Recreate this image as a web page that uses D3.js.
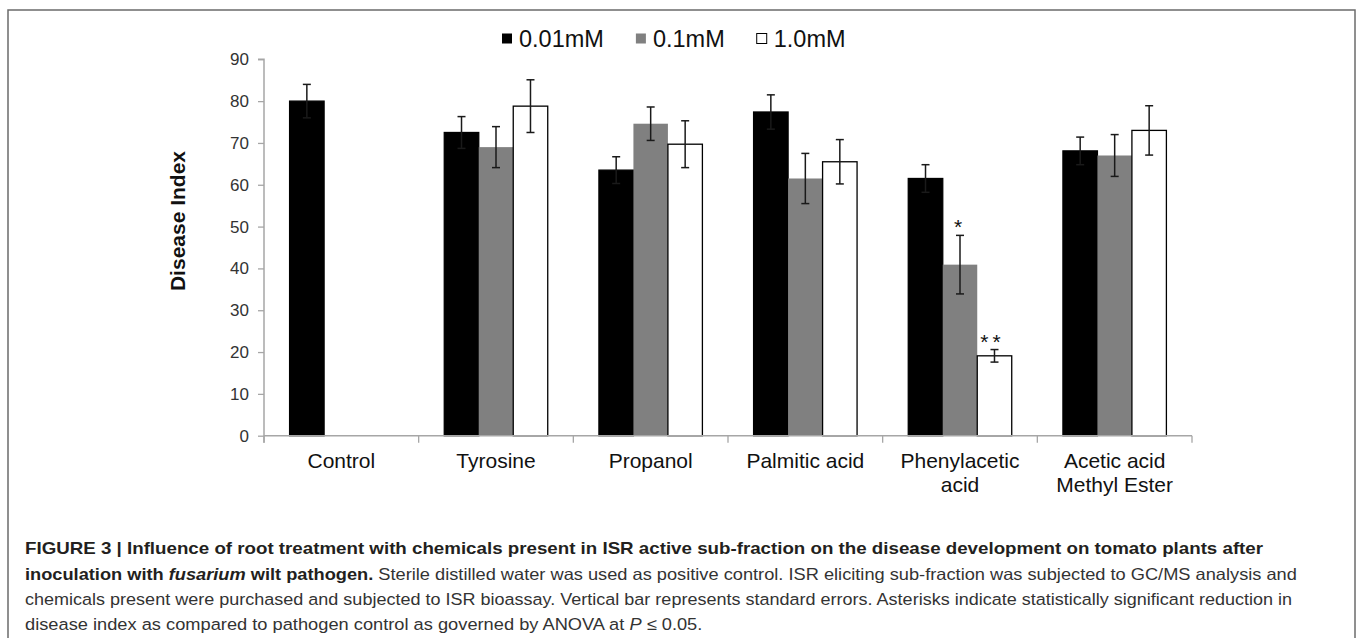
<!DOCTYPE html>
<html>
<head>
<meta charset="utf-8">
<script src="https://cdn.jsdelivr.net/npm/d3@7"></script>
<style>
  body { margin: 0; background: #fff; }
  svg { display: block; font-family: "Liberation Sans", Arial, sans-serif; }
</style>
</head>
<body>
<svg id="chart" width="1360" height="638"></svg>
<script>
// data
const categories = ["Control", "Tyrosine", "Propanol", "Palmitic acid", "Phenylacetic acid", "Acetic acid Methyl Ester"]
const catLines = [["Control"], ["Tyrosine"], ["Propanol"], ["Palmitic acid"], ["Phenylacetic", "acid"], ["Acetic acid", "Methyl Ester"]]
const series = ["0.01mM", "0.1mM", "1.0mM"]
const mean001 = [80, 72.5, 63.5, 77.4, 61.5, 68.1]
const mean01 = [null, 69, 74.6, 61.5, 40.9, 67]
const mean10 = [null, 78.8, 69.7, 65.5, 19.1, 73]
const se001 = [4, 3.8, 3.2, 4.1, 3.3, 3.3]
const se01 = [null, 4.9, 4, 6, 7, 5]
const se10 = [null, 6.3, 5.6, 5.3, 1.5, 5.9]
const yTicks = [0, 10, 20, 30, 40, 50, 60, 70, 80, 90]
// significance marks: category, series, label
const marks = [["Phenylacetic acid", "0.1mM", "*"], ["Phenylacetic acid", "1.0mM", "**"]]

const means = [mean001, mean01, mean10]
const ses = [se001, se01, se10]
const fills = ["#000", "#808080", "#fff"]

const svg = d3.select("#chart")

//outer frame (bottom edge runs off the page)
svg.append("rect").attr("x", 8).attr("y", 10).attr("width", 1347).attr("height", 660)
  .attr("fill", "none").attr("stroke", "#6b6b6b").attr("stroke-width", 1.5)

//scales
const x = d3.scaleBand().domain(categories).range([264, 1192])
const xs = d3.scaleBand().domain(series).range([25.6, x.bandwidth() - 25.6])
const y = d3.scaleLinear().domain([0, 90]).range([435.7, 59.3])

//flat rows
let rows = []
categories.forEach((c, i) => {
  series.forEach((s, j) => {
    if (means[j][i] != null) rows.push({ c, s, j, v: means[j][i], e: ses[j][i] })
  })
})

//y axis
const yAxis = svg.append("g").attr("transform", "translate(264,0)")
  .call(d3.axisLeft(y).tickValues(yTicks).tickSize(6).tickPadding(9))
yAxis.select(".domain").attr("stroke", "#a6a6a6").attr("stroke-width", 1.5)
  .attr("d", "M-6," + y(90) + "H0V" + (y(0) + 7))
yAxis.selectAll(".tick line").attr("stroke", "#a6a6a6").attr("stroke-width", 1.3)
yAxis.selectAll(".tick text").attr("fill", "#333").style("font-size", "17px")
  .style("font-family", "'Liberation Sans', Arial, sans-serif")

//bars
const g = svg.append("g")
g.selectAll("rect").data(rows).enter().append("rect")
  .attr("x", d => x(d.c) + xs(d.s))
  .attr("y", d => y(d.v))
  .attr("width", xs.bandwidth())
  .attr("height", d => y(0) - y(d.v))
  .attr("fill", d => fills[d.j])
  .attr("stroke", d => d.j == 1 ? "none" : "#000")
  .attr("stroke-width", 1.3)

//x axis line + category boundary ticks
const xa = svg.append("g")
xa.append("line").attr("x1", 264).attr("x2", 1192).attr("y1", y(0)).attr("y2", y(0))
  .attr("stroke", "#a6a6a6").attr("stroke-width", 1.5)
xa.selectAll("line.tk").data(categories.concat(["end"])).enter().append("line")
  .attr("class", "tk")
  .attr("x1", (d, i) => 264 + i * x.step()).attr("x2", (d, i) => 264 + i * x.step())
  .attr("y1", y(0)).attr("y2", y(0) + 7)
  .attr("stroke", "#a6a6a6").attr("stroke-width", 1.3)
const lab = xa.selectAll("text").data(categories).enter().append("text")
  .attr("x", d => x(d) + x.bandwidth() / 2)
  .attr("y", 468)
  .attr("text-anchor", "middle")
  .attr("fill", "#111")
  .style("font-size", "21px")
lab.each(function (d, i) {
  d3.select(this).selectAll("tspan").data(catLines[i]).enter().append("tspan")
    .attr("x", x(d) + x.bandwidth() / 2)
    .attr("dy", (t, k) => k == 0 ? 0 : 23.5)
    .text(t => t)
})

//error bars
const eb = svg.append("g").attr("stroke", "#1a1a1a").attr("stroke-width", 1.5)
rows.forEach(d => {
  let cx = x(d.c) + xs(d.s) + xs.bandwidth() / 2
  eb.append("line").attr("x1", cx).attr("x2", cx).attr("y1", y(d.v + d.e)).attr("y2", y(d.v - d.e))
  eb.append("line").attr("x1", cx - 4).attr("x2", cx + 4).attr("y1", y(d.v + d.e)).attr("y2", y(d.v + d.e))
  eb.append("line").attr("x1", cx - 4).attr("x2", cx + 4).attr("y1", y(d.v - d.e)).attr("y2", y(d.v - d.e))
})

//asterisks
marks.forEach(m => {
  let i = categories.indexOf(m[0]), j = series.indexOf(m[1])
  svg.append("text")
    .attr("x", x(m[0]) + xs(m[1]) + xs.bandwidth() / 2 - 2)
    .attr("y", y(means[j][i] + ses[j][i]) - 1)
    .attr("text-anchor", "middle")
    .style("font-size", "21px").style("letter-spacing", m[2].length > 1 ? "4px" : "0")
    .attr("fill", "#111")
    .text(m[2])
})

//y title
svg.append("text").attr("transform", "translate(185,221) rotate(-90)")
  .attr("text-anchor", "middle").style("font-size", "21px").style("font-weight", "bold")
  .attr("fill", "#111").text("Disease Index")

//legend
let lx = 502
series.forEach((s, j) => {
  svg.append("rect").attr("x", lx).attr("y", 33.5).attr("width", 10).attr("height", 10)
    .attr("fill", fills[j]).attr("stroke", j == 2 ? "#000" : "none").attr("stroke-width", 1)
  let t = svg.append("text").attr("x", lx + 17).attr("y", 46.5)
    .style("font-size", "23.5px").attr("fill", "#111").text(s)
  lx += 17 + t.node().getComputedTextLength() + 32
})

//caption
const capLines = [
  [["FIGURE 3 | Influence of root treatment with chemicals present in ISR active sub-fraction on the disease development on tomato plants after", "b"]],
  [["inoculation with ", "b"], ["fusarium", "bi"], [" wilt pathogen.", "b"], [" Sterile distilled water was used as positive control. ISR eliciting sub-fraction was subjected to GC/MS analysis and", "n"]],
  [["chemicals present were purchased and subjected to ISR bioassay. Vertical bar represents standard errors. Asterisks indicate statistically significant reduction in", "n"]],
  [["disease index as compared to pathogen control as governed by ANOVA at ", "n"], ["P", "i"], [" \u2264 0.05.", "n"]]
]
const capEnd = [1264, 1298, 1293, 703]
const capY = [554, 579.5, 605, 630]
capLines.forEach((ln, i) => {
  let gg = svg.append("g")
  let t = gg.append("text").attr("x", 0).attr("y", 0).style("font-size", "16.5px")
  ln.forEach(p => {
    t.append("tspan").text(p[0])
      .style("font-weight", p[1].includes("b") ? "bold" : "normal")
      .style("font-style", p[1].includes("i") ? "italic" : "normal")
      .attr("fill", p[1].includes("b") ? "#231f20" : "#333")
  })
  let w = t.node().getComputedTextLength()
  let sx = (capEnd[i] - 25) / w
  gg.attr("transform", "translate(25," + capY[i] + ") scale(" + sx + ",1)")
})
</script>
</body>
</html>
